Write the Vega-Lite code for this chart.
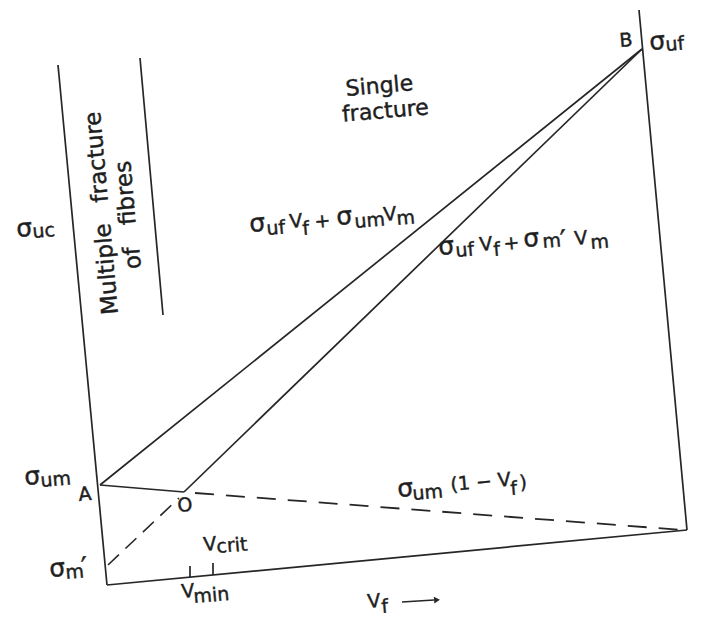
{
  "$schema": "https://vega.github.io/schema/vega-lite/v6.json",
  "width": 707,
  "height": 620,
  "autosize": {"type": "fit", "contains": "padding"},
  "padding": 0,
  "background": "white",
  "config": {
    "view": {"stroke": null},
    "text": {"font": "DejaVu Sans", "color": "#1e1e1e", "stroke": "#1e1e1e", "strokeWidth": 0.45}
  },
  "datasets": {
    "solid": [
      {"name": "left axis", "x": 58, "y": 65, "x2": 107, "y2": 585},
      {"name": "Vf axis", "x": 107, "y": 585, "x2": 687, "y2": 530},
      {"name": "Vf = 1", "x": 639, "y": 10, "x2": 687, "y2": 530},
      {"name": "multiple/single boundary", "x": 140, "y": 58, "x2": 163, "y2": 315},
      {"name": "A-B", "x": 100, "y": 485, "x2": 642, "y2": 49},
      {"name": "O-B", "x": 184, "y": 492, "x2": 642, "y2": 49},
      {"name": "A-O", "x": 100, "y": 485, "x2": 184, "y2": 492},
      {"name": "Vmin tick", "x": 190, "y": 566, "x2": 190, "y2": 577},
      {"name": "Vcrit tick", "x": 213, "y": 563, "x2": 213, "y2": 575},
      {"name": "Vf arrow", "x": 402, "y": 602, "x2": 434, "y2": 600}
    ],
    "matrixOnly": [
      {"name": "O-end", "x": 195, "y": 493, "x2": 683, "y2": 530}
    ],
    "crackedMatrix": [
      {"name": "sigma_m' to O", "x": 108, "y": 565, "x2": 179, "y2": 498}
    ],
    "arrowHeads": [
      {"name": "Vf arrow", "x": 437, "y": 600}
    ],
    "sigmas": [
      {"label": "σuc", "t": "σ", "x": 17, "y": 237},
      {"label": "σum", "t": "σ", "x": 25, "y": 485},
      {"label": "σm′", "t": "σ", "x": 50, "y": 577},
      {"label": "σufVf + σumVm", "t": "σ", "x": 250, "y": 232},
      {"label": "σufVf + σumVm", "t": "σ", "x": 337, "y": 225},
      {"label": "σufVf + σm′Vm", "t": "σ", "x": 439, "y": 255},
      {"label": "σufVf + σm′Vm", "t": "σ", "x": 524, "y": 247},
      {"label": "σum(1 − Vf)", "t": "σ", "x": 398, "y": 497},
      {"label": "σuf", "t": "σ", "x": 650, "y": 50}
    ],
    "letters": [
      {"t": "A", "x": 79, "y": 501},
      {"t": "O", "x": 178, "y": 512},
      {"t": "B", "x": 620, "y": 47},
      {"t": "V", "x": 290, "y": 228},
      {"t": "+", "x": 315, "y": 228},
      {"t": "V", "x": 384, "y": 221},
      {"t": "V", "x": 480, "y": 251},
      {"t": "+", "x": 504, "y": 250},
      {"t": "V", "x": 575, "y": 245},
      {"t": "(1 − V", "x": 451, "y": 491},
      {"t": ")", "x": 520, "y": 489},
      {"t": "V", "x": 182, "y": 598},
      {"t": "V", "x": 204, "y": 551},
      {"t": "V", "x": 368, "y": 608}
    ],
    "subscripts": [
      {"t": "uc", "x": 33, "y": 238},
      {"t": "um", "x": 41, "y": 487},
      {"t": "m", "x": 66, "y": 579},
      {"t": "uf", "x": 267, "y": 235},
      {"t": "f", "x": 303, "y": 235},
      {"t": "um", "x": 355, "y": 228},
      {"t": "m", "x": 397, "y": 225},
      {"t": "uf", "x": 456, "y": 257},
      {"t": "f", "x": 494, "y": 256},
      {"t": "m", "x": 543, "y": 248},
      {"t": "m", "x": 591, "y": 249},
      {"t": "um", "x": 413, "y": 500},
      {"t": "f", "x": 511, "y": 495},
      {"t": "min", "x": 194, "y": 603},
      {"t": "crit", "x": 217, "y": 553},
      {"t": "uf", "x": 666, "y": 51},
      {"t": "f", "x": 382, "y": 613}
    ],
    "primes": [
      {"t": "′", "x": 82, "y": 577},
      {"t": "′", "x": 561, "y": 250}
    ],
    "regions": [
      {"t": "Single", "x": 380, "y": 93},
      {"t": "fracture", "x": 386, "y": 118}
    ],
    "sideRegion": [
      {"t": "Multiple", "x": 107, "y": 269},
      {"t": "fracture", "x": 97, "y": 157},
      {"t": "of", "x": 133, "y": 258},
      {"t": "fibres", "x": 126, "y": 193}
    ]
  },
  "encoding": {
    "x": {"field": "x", "type": "quantitative", "scale": {"domain": [0, 707], "nice": false, "zero": false}, "axis": null},
    "y": {"field": "y", "type": "quantitative", "scale": {"domain": [0, 620], "nice": false, "zero": false, "reverse": true}, "axis": null}
  },
  "layer": [
    {
      "data": {"name": "solid"},
      "mark": {"type": "rule", "color": "#262626", "strokeWidth": 1.7},
      "encoding": {"x2": {"field": "x2"}, "y2": {"field": "y2"}}
    },
    {
      "data": {"name": "matrixOnly"},
      "mark": {"type": "rule", "color": "#262626", "strokeWidth": 1.8, "strokeDash": [19, 12]},
      "encoding": {"x2": {"field": "x2"}, "y2": {"field": "y2"}}
    },
    {
      "data": {"name": "crackedMatrix"},
      "mark": {"type": "rule", "color": "#262626", "strokeWidth": 1.6, "strokeDash": [15, 9]},
      "encoding": {"x2": {"field": "x2"}, "y2": {"field": "y2"}}
    },
    {
      "data": {"name": "arrowHeads"},
      "mark": {"type": "point", "shape": "triangle-right", "filled": true, "color": "#262626", "size": 45, "angle": -4, "opacity": 1}
    },
    {
      "data": {"name": "sigmas"},
      "mark": {"type": "text", "fontSize": 25, "align": "left", "baseline": "alphabetic", "angle": -5},
      "encoding": {"text": {"field": "t"}}
    },
    {
      "data": {"name": "letters"},
      "mark": {"type": "text", "fontSize": 19, "align": "left", "baseline": "alphabetic", "angle": -5},
      "encoding": {"text": {"field": "t"}}
    },
    {
      "data": {"name": "subscripts"},
      "mark": {"type": "text", "fontSize": 19, "align": "left", "baseline": "alphabetic", "angle": -5},
      "encoding": {"text": {"field": "t"}}
    },
    {
      "data": {"name": "primes"},
      "mark": {"type": "text", "fontSize": 28, "align": "left", "baseline": "alphabetic", "angle": -5},
      "encoding": {"text": {"field": "t"}}
    },
    {
      "data": {"name": "regions"},
      "mark": {"type": "text", "fontSize": 22, "align": "center", "baseline": "alphabetic", "angle": -5},
      "encoding": {"text": {"field": "t"}}
    },
    {
      "data": {"name": "sideRegion"},
      "mark": {"type": "text", "fontSize": 23, "align": "center", "baseline": "middle", "angle": -95},
      "encoding": {"text": {"field": "t"}}
    }
  ]
}
